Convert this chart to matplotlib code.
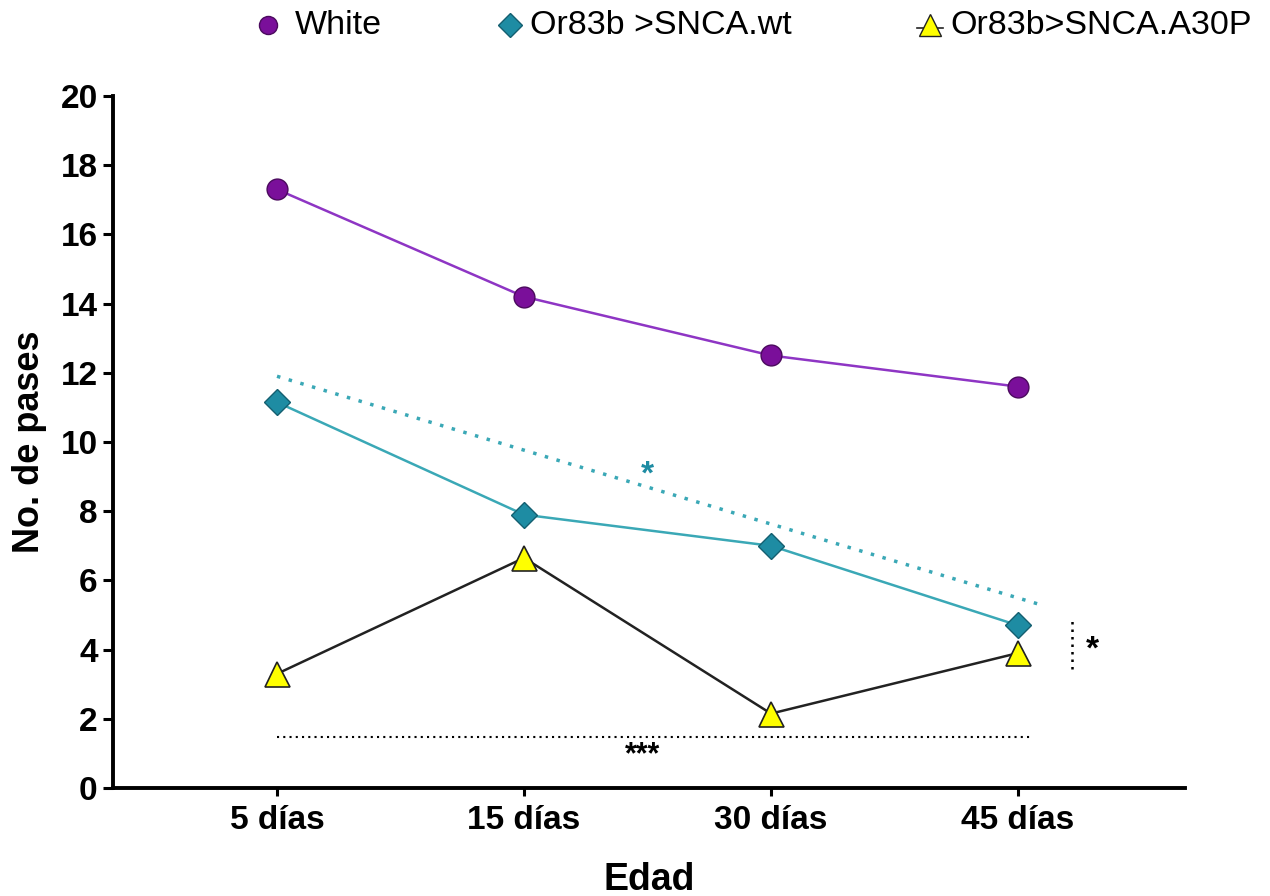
import matplotlib
matplotlib.use("Agg")
import matplotlib.pyplot as plt
from matplotlib.lines import Line2D

plt.rcParams['font.family'] = ['Liberation Sans', 'DejaVu Sans']

categories = ["5 días", "15 días", "30 días", "45 días"]
white = [17.3, 14.2, 12.5, 11.6]
snca_wt = [11.15, 7.9, 7.0, 4.7]
snca_a30p = [3.3, 6.65, 2.15, 3.9]
trend_wt = [11.9, 5.3]   # dotted trend line start/end values
y_ticks = [0, 2, 4, 6, 8, 10, 12, 14, 16, 18, 20]
series_names = ['White', 'Or83b >SNCA.wt', 'Or83b>SNCA.A30P']

W, H = 1270, 896
fig = plt.figure(figsize=(12.7, 8.96), dpi=100)
ax = fig.add_axes([113 / W, 1 - 788 / H, (1185 - 113) / W, (788 - 96) / H])
x = list(range(len(categories)))

purple_line = '#8e35c4'
purple_fill = '#7a0f9a'
teal_line = '#3aa8b6'
teal_fill = '#1e8ca3'

ax.plot(x, white, color=purple_line, lw=1.8, marker='o', ms=15,
        mfc=purple_fill, mec='#4b0a5e', mew=1.0, zorder=3)
ax.plot(x, snca_wt, color=teal_line, lw=1.8, marker='D', ms=13,
        mfc=teal_fill, mec='#145f70', mew=1.0, zorder=3)
ax.plot(x, snca_a30p, color='#222222', lw=1.8, marker='^', ms=18,
        mfc='#ffff00', mec='#222222', mew=1.2, zorder=3)

# dotted trend line (wt)
ax.plot([0, 3.09], trend_wt, color=teal_line, lw=2.5, ls=(0, (1, 2.5)), zorder=2)
ax.text(1.5, 9.05, '*', color=teal_fill, fontsize=24, fontweight='bold', ha='center', va='center')

# bottom significance line
ax.plot([0, 3.05], [1.47, 1.47], color='black', lw=1.5, ls=(0, (1, 2)), zorder=2)
ax.text(1.48, 0.95, '***', color='black', fontsize=22, fontweight='bold', ha='center', va='center')

# vertical significance line
ax.plot([3.22, 3.22], [3.45, 4.95], color='black', lw=1.8, ls=(0, (1, 2)), zorder=2, clip_on=False)
ax.text(3.3, 4.0, '*', color='black', fontsize=24, fontweight='bold', ha='center', va='center')

ax.set_xlim(-0.664, 3.676)
ax.set_ylim(0, 20)
ax.set_yticks(y_ticks)
ax.set_xticks(x)
ax.set_xticklabels(categories)
for lab in ax.get_xticklabels() + ax.get_yticklabels():
    lab.set_fontweight('bold')
    lab.set_fontsize(24)
ax.tick_params(axis='y', width=2.2, length=7, direction='out', pad=4)
ax.tick_params(axis='x', width=2.2, length=6, direction='out', pad=6)
ax.spines['top'].set_visible(False)
ax.spines['right'].set_visible(False)
ax.spines['left'].set_linewidth(2.8)
ax.spines['bottom'].set_linewidth(2.8)

ax.set_ylabel('No. de pases', fontsize=26, fontweight='bold', labelpad=10)
ax.set_xlabel('Edad', fontsize=27, fontweight='bold', labelpad=19)

# legend drawn at top (figure coordinates)
ly = 1 - 25 / H
handles = [
    dict(marker='o', ms=13, mfc=purple_fill, mec='#4b0a5e', ls='none'),
    dict(marker='D', ms=12, mfc=teal_fill, mec='#145f70', ls='none'),
    dict(marker='^', ms=16, mfc='#ffff00', mec='#222222', ls='none'),
]
mx = [268, 510, 930]
tx = [295, 530, 950]
for hd, m, t, name in zip(handles, mx, tx, series_names):
    if name == series_names[2]:
        fig.add_artist(Line2D([(m - 13) / W, (m + 13) / W], [ly - 3 / H, ly - 3 / H],
                              color='#222222', lw=1.2, transform=fig.transFigure))
    fig.add_artist(Line2D([m / W], [ly], transform=fig.transFigure, **hd))
    fig.text(t / W, ly, name, fontsize=24.5, ha='left', va='center')

fig.savefig('out.png', dpi=100)
